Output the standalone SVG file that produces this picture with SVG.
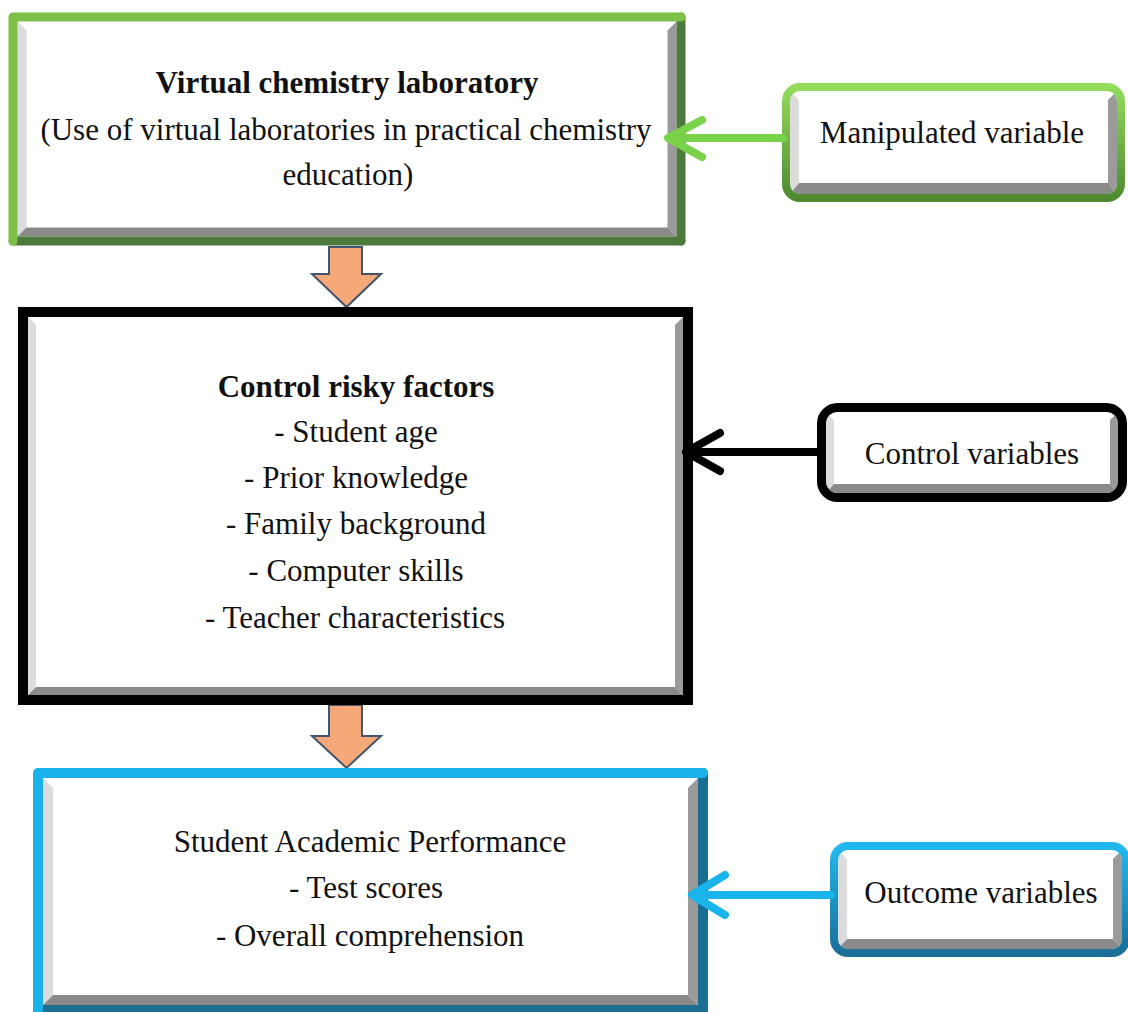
<svg xmlns="http://www.w3.org/2000/svg" width="1128" height="1012" viewBox="0 0 1128 1012">
<style>
text{font-family:"Liberation Serif","Times New Roman",serif;font-size:31px;fill:#111;text-anchor:middle}
.b{font-weight:bold}
.lg{fill:#dcdcdc}.rg{fill:#9a9a9a}.bg{fill:#8a8a8a}
.blk{fill:#f5a878;stroke:#44546a;stroke-width:2;stroke-linejoin:miter}
.ln{fill:none;stroke-width:8;stroke-linecap:round;stroke-linejoin:round}
</style>
<defs>
<linearGradient id="gG" x1="0" y1="0" x2="0" y2="1"><stop offset="0" stop-color="#93dc5c"/><stop offset="1" stop-color="#4f8a31"/></linearGradient>
<linearGradient id="gB" x1="0" y1="0" x2="0" y2="1"><stop offset="0" stop-color="#22b8ee"/><stop offset="1" stop-color="#1a6f98"/></linearGradient>
<clipPath id="cM"><rect x="790" y="91" width="327" height="103" rx="10"/></clipPath>
<clipPath id="cC"><rect x="826" y="412" width="292" height="81" rx="11"/></clipPath>
<clipPath id="cO"><rect x="838" y="850" width="284" height="99" rx="10"/></clipPath>
</defs>
<rect width="1128" height="1012" fill="#fff"/>

<g id="connectors">
<path class="blk" d="M329,247 H362 V274 H381 L346.5,307 L312,274 H329 Z"/>
<path class="blk" d="M329,705 H362 V736 H381 L346.5,768 L312,736 H329 Z"/>
</g>

<g id="node-virtual-lab">
<rect x="13" y="17" width="668" height="224" fill="#fff"/>
<polygon class="lg" points="17.5,21.5 26.5,30.5 26.5,227.5 17.5,236.5"/>
<polygon class="rg" points="676.5,21.5 667.5,30.5 667.5,227.5 676.5,236.5"/>
<polygon class="bg" points="17.5,236.5 26.5,227.5 667.5,227.5 676.5,236.5"/>
<polyline points="681,241 13,241" fill="none" stroke="#4b7a3c" stroke-width="9" stroke-linecap="round"/>
<polyline points="681,17 681,241" fill="none" stroke="#4b7a3c" stroke-width="9" stroke-linecap="round"/>
<polyline points="13,241 13,17 681,17" fill="none" stroke="#7cc04a" stroke-width="9" stroke-linecap="round" stroke-linejoin="round"/>
<text class="b" x="347" y="93">Virtual chemistry laboratory</text>
<text x="346" y="140">(Use of virtual laboratories in practical chemistry</text>
<text x="348" y="185">education)</text>
</g>

<g id="node-control-factors">
<rect x="23" y="312" width="665" height="388" fill="#fff"/>
<polygon class="lg" points="28,317 36,325 36,687 28,695"/>
<polygon class="rg" points="683,317 675,325 675,687 683,695"/>
<polygon class="bg" points="28,695 36,687 675,687 683,695"/>
<rect x="23" y="312" width="665" height="388" fill="none" stroke="#000" stroke-width="10"/>
<text class="b" x="356" y="397">Control risky factors</text>
<text x="356" y="442">- Student age</text>
<text x="356" y="488">- Prior knowledge</text>
<text x="356" y="534">- Family background</text>
<text x="356" y="581">- Computer skills</text>
<text x="355" y="628">- Teacher characteristics</text>
</g>

<g id="node-performance">
<rect x="38" y="773" width="665" height="237" fill="#fff"/>
<polygon class="lg" points="43,778 53,788 53,995 43,1005"/>
<polygon class="rg" points="698,778 688,788 688,995 698,1005"/>
<polygon class="bg" points="43,1005 53,995 688,995 698,1005"/>
<polyline points="703,773 703,1010 38,1010" fill="none" stroke="#1b6d93" stroke-width="10" stroke-linecap="round"/>
<polyline points="38,1010 38,773 703,773" fill="none" stroke="#1ab2ea" stroke-width="10" stroke-linecap="round" stroke-linejoin="round"/>
<text x="370" y="852">Student Academic Performance</text>
<text x="366" y="898">- Test scores</text>
<text x="370" y="946">- Overall comprehension</text>
</g>

<g id="node-manipulated">
<rect x="786" y="87" width="335" height="111" rx="14" fill="#fff"/>
<g clip-path="url(#cM)">
<polygon class="lg" points="790,91 799,100 799,183 790,194"/>
<polygon class="rg" points="1117,91 1108,100 1108,183 1117,194"/>
<polygon class="bg" points="790,194 799,183 1108,183 1117,194"/>
</g>
<rect x="786" y="87" width="335" height="111" rx="14" fill="none" stroke="url(#gG)" stroke-width="8"/>
<text x="952" y="143">Manipulated variable</text>
</g>

<g id="node-control-vars">
<rect x="821.5" y="407.5" width="301" height="90" rx="16" fill="#fff"/>
<g clip-path="url(#cC)">
<polygon class="lg" points="826,412 834,420 834,484 826,493"/>
<polygon class="rg" points="1118,412 1110,420 1110,484 1118,493"/>
<polygon class="bg" points="826,493 834,484 1110,484 1118,493"/>
</g>
<rect x="821.5" y="407.5" width="301" height="90" rx="16" fill="none" stroke="#000" stroke-width="9"/>
<text x="972" y="464">Control variables</text>
</g>

<g id="node-outcome">
<rect x="834" y="846" width="292" height="107" rx="14" fill="#fff"/>
<g clip-path="url(#cO)">
<polygon class="lg" points="838,850 847,859 847,939 838,949"/>
<polygon class="rg" points="1122,850 1113,859 1113,939 1122,949"/>
<polygon class="bg" points="838,949 847,939 1113,939 1122,949"/>
</g>
<rect x="834" y="846" width="292" height="107" rx="14" fill="none" stroke="url(#gB)" stroke-width="8"/>
<text x="981" y="903">Outcome variables</text>
</g>

<g id="side-connectors">
<line class="ln" x1="783" y1="138" x2="670" y2="138" stroke="#7ad24a"/>
<polyline class="ln" points="702,120 668,138 702,157" stroke="#7ad24a"/>
<line class="ln" x1="818" y1="452" x2="688" y2="452" stroke="#000"/>
<polyline class="ln" points="720,433 686,452 720,471" stroke="#000"/>
<line class="ln" x1="831" y1="895" x2="694" y2="895" stroke="#1ab4ec"/>
<polyline class="ln" points="725,875 692,895 725,915" stroke="#1ab4ec"/>
</g>
</svg>
